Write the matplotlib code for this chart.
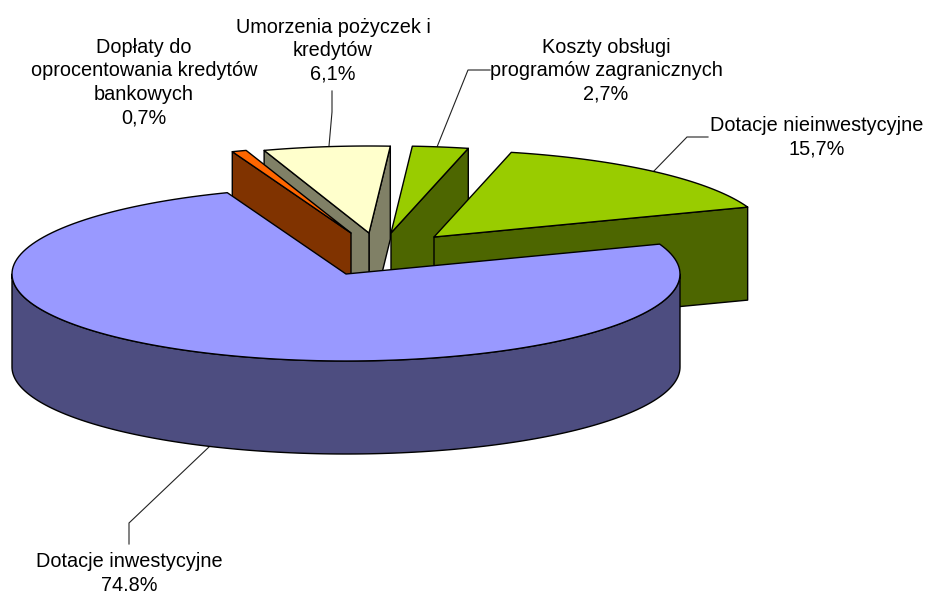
import numpy as np
import matplotlib
matplotlib.use("Agg")
import matplotlib.pyplot as plt
from matplotlib.patches import Polygon

# --- data (clockwise drawing order from the main slice) ---
categories = ["Dotacje inwestycyjne", "Dotacje nieinwestycyjne",
              "Koszty obsługi\nprogramów zagranicznych",
              "Umorzenia pożyczek i\nkredytów",
              "Dopłaty do\noprocentowania kredytów\nbankowych"]
values = [74.8, 15.7, 2.7, 6.1, 0.7]

# --- styles / geometry ---
top_colors = ["#9999FF", "#99CC00", "#99CC00", "#FFFFCC", "#FF6600"]
side_colors = ["#4D4D80", "#4D6600", "#4D6600", "#808066", "#803300"]
apex_offsets = [(0, 0), (88, -37), (45, -41), (23, -41), (5, -41)]
label_pos = [(129, 552), (817, 116), (606, 38), (333, 18), (144, 38)]
leaders = [[(129, 544), (129, 523), (210, 446)],
           [(708, 137), (687, 137), (653, 172)],
           [(490, 70), (468, 70), (437, 147)],
           [(332, 91), (332, 112), (329, 146)],
           ]
CX, CY, RX, RY, DEPTH = 346, 274, 334, 87, 93
START = 20.1  # end of the main slice, degrees ccw from east
EDGE = "black"
LW = 1.0

plt.rcParams["font.family"] = ["Liberation Sans", "DejaVu Sans"]
fig = plt.figure(figsize=(9.25, 5.91), dpi=100)
ax = fig.add_axes([0, 0, 1, 1])
ax.set_xlim(0, 925)
ax.set_ylim(591, 0)
ax.axis("off")


def rim(cx, cy, a1, a2, n=160):
    t = np.radians(np.linspace(a1, a2, n))
    return np.column_stack([cx + RX * np.cos(t), cy - RY * np.sin(t)])


def poly(points, color, z):
    ax.add_patch(Polygon(points, closed=True, facecolor=color, edgecolor=EDGE,
                         linewidth=LW, joinstyle="round", zorder=z))


# angular extents from the values
spans = [v / sum(values) * 360 for v in values]
slices = []
hi = START + 360
lo = hi - spans[0]
slices.append((lo, hi))
hi = START
for s in spans[1:]:
    slices.append((hi, hi + s))
    hi += s

# back slices first, main slice last
z = 2
for i in [3, 4, 2, 1, 0]:
    a1, a2 = slices[i]
    dx, dy = apex_offsets[i]
    cx, cy = CX + dx, CY + dy
    apex = np.array([[cx, cy]])
    down = np.array([0, DEPTH])
    # flat cut faces that look towards the viewer
    for a, visible in ((a1, np.cos(np.radians(a1)) > 0), (a2, np.cos(np.radians(a2)) < 0)):
        if visible and i != 0:
            p = rim(cx, cy, a, a, 1)
            poly(np.vstack([apex, p, p + down, apex + down]), side_colors[i], z)
            z += 1
    # rim of the part at the front
    f1, f2 = max(a1, 180), min(a2, 360)
    if f2 > f1:
        r = rim(cx, cy, f1, f2)
        poly(np.vstack([r, (r + down)[::-1]]), side_colors[i], z)
        z += 1
    poly(np.vstack([apex, rim(cx, cy, a1, a2)]), top_colors[i], z)
    z += 1

# leader lines
for pts in leaders:
    xs, ys = zip(*pts)
    ax.plot(xs, ys, color="#222222", lw=0.8, zorder=1, solid_joinstyle="miter")

# labels
for cat, val, (x, y) in zip(categories, values, label_pos):
    txt = f"{cat}\n{val:.1f}%".replace(".", ",")
    ax.text(x, y, txt, ha="center", va="top", fontsize=14.35, color="black",
            linespacing=1.29, zorder=50, clip_on=False)

fig.savefig("out.png", dpi=100)
